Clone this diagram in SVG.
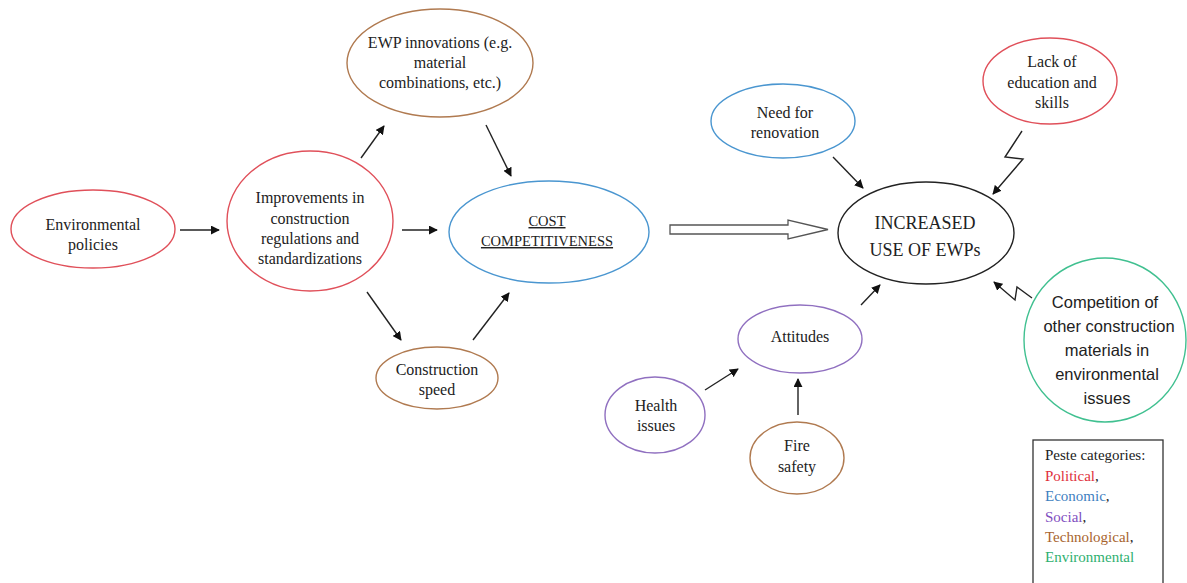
<svg xmlns="http://www.w3.org/2000/svg" width="1187" height="583" viewBox="0 0 1187 583">
<defs>
<marker id="ah" viewBox="0 0 10 10" refX="9" refY="5" markerWidth="9" markerHeight="9" markerUnits="userSpaceOnUse" orient="auto">
<path d="M0,0 L10,5 L0,10 z" fill="#111"/>
</marker>
</defs>
<style>
.n{fill:#fff;stroke-width:1.4}
.red{stroke:#e0505a}
.blue{stroke:#4a96d0}
.brown{stroke:#b07a50}
.purple{stroke:#9070c0}
.green{stroke:#40c090}
.black{stroke:#222}
.t{font-family:"Liberation Serif",serif;font-size:16px;fill:#222;text-anchor:middle}
.s{font-family:"Liberation Sans",sans-serif;font-size:16.5px;fill:#222;text-anchor:middle}
.c{stroke:#222;stroke-width:1.4;fill:none}
.lg{font-family:"Liberation Serif",serif;font-size:15px}
</style>
<rect width="1187" height="583" fill="#fff"/>
<g id="connectors">
<line class="c" x1="180" y1="230" x2="219" y2="230" marker-end="url(#ah)"/>
<line class="c" x1="361" y1="158" x2="384" y2="126" marker-end="url(#ah)"/>
<line class="c" x1="486" y1="125" x2="511" y2="176" marker-end="url(#ah)"/>
<line class="c" x1="402" y1="230" x2="437" y2="230" marker-end="url(#ah)"/>
<line class="c" x1="367" y1="292" x2="401" y2="340" marker-end="url(#ah)"/>
<line class="c" x1="473" y1="340" x2="509" y2="293" marker-end="url(#ah)"/>
<path d="M670,225 L788,225 L788,220 L828,229.5 L788,239 L788,234 L670,234 z" fill="#fff" stroke="#555" stroke-width="1.3"/>
<line class="c" x1="833" y1="157" x2="863" y2="188" marker-end="url(#ah)"/>
<polyline class="c" points="1022,131 1005,157 1023,159 993,194" marker-end="url(#ah)"/>
<polyline class="c" points="1032,298 1017,287 1015,300 994,282" marker-end="url(#ah)"/>
<line class="c" x1="861" y1="305" x2="880" y2="285" marker-end="url(#ah)"/>
<line class="c" x1="705" y1="390" x2="738" y2="369" marker-end="url(#ah)"/>
<line class="c" x1="798" y1="415" x2="798" y2="379" marker-end="url(#ah)"/>
</g>
<g id="env-policies">
<ellipse class="n red" cx="93" cy="229" rx="82" ry="39"/>
<text class="t" x="93" y="230">Environmental</text>
<text class="t" x="93" y="250">policies</text>
</g>
<g id="improvements">
<ellipse class="n red" cx="310" cy="221" rx="83" ry="70"/>
<text class="t" x="310" y="203">Improvements in</text>
<text class="t" x="310" y="224">construction</text>
<text class="t" x="310" y="244">regulations and</text>
<text class="t" x="310" y="264">standardizations</text>
</g>
<g id="ewp-innovations">
<ellipse class="n brown" cx="440" cy="63" rx="93" ry="54"/>
<text class="t" x="440" y="48">EWP innovations (e.g.</text>
<text class="t" x="440" y="68">material</text>
<text class="t" x="440" y="88">combinations, etc.)</text>
</g>
<g id="construction-speed">
<ellipse class="n brown" cx="437" cy="378" rx="61" ry="31"/>
<text class="t" x="437" y="375">Construction</text>
<text class="t" x="437" y="395">speed</text>
</g>
<g id="cost">
<ellipse class="n blue" cx="549" cy="232" rx="100" ry="51"/>
<text class="t" x="547" y="226" style="font-size:14.5px" text-decoration="underline">COST</text>
<text class="t" x="547" y="246" style="font-size:14.5px" text-decoration="underline">COMPETITIVENESS</text>
</g>
<g id="increased">
<ellipse class="n black" cx="926" cy="233" rx="88" ry="51"/>
<text class="t" x="925" y="229" style="font-size:18px">INCREASED</text>
<text class="t" x="925" y="256" style="font-size:18px">USE OF EWPs</text>
</g>
<g id="renovation">
<ellipse class="n blue" cx="783" cy="121" rx="72" ry="37"/>
<text class="t" x="785" y="118">Need for</text>
<text class="t" x="785" y="138">renovation</text>
</g>
<g id="lack-education">
<ellipse class="n red" cx="1050" cy="81" rx="67" ry="43"/>
<text class="t" x="1052" y="67">Lack of</text>
<text class="t" x="1052" y="88">education and</text>
<text class="t" x="1052" y="108">skills</text>
</g>
<g id="competition">
<ellipse class="n green" cx="1105" cy="340" rx="81" ry="82"/>
<text class="s" x="1105" y="308">Competition of</text>
<text class="s" x="1109" y="332">other construction</text>
<text class="s" x="1107" y="356">materials in</text>
<text class="s" x="1107" y="380">environmental</text>
<text class="s" x="1107" y="404">issues</text>
</g>
<g id="attitudes">
<ellipse class="n purple" cx="800" cy="339" rx="62" ry="34"/>
<text class="t" x="800" y="342">Attitudes</text>
</g>
<g id="health">
<ellipse class="n purple" cx="655" cy="415" rx="50" ry="38"/>
<text class="t" x="656" y="411">Health</text>
<text class="t" x="656" y="431">issues</text>
</g>
<g id="fire">
<ellipse class="n brown" cx="797" cy="458" rx="47" ry="36"/>
<text class="t" x="797" y="451">Fire</text>
<text class="t" x="797" y="472">safety</text>
</g>
<g id="legend">
<rect x="1033" y="440" width="130" height="150" fill="#fff" stroke="#333" stroke-width="1.3"/>
<text class="lg" x="1045" y="460" fill="#222">Peste categories:</text>
<text class="lg" x="1045" y="481"><tspan fill="#e0303c">Political</tspan><tspan fill="#222">,</tspan></text>
<text class="lg" x="1045" y="501"><tspan fill="#3f7fbf">Economic</tspan><tspan fill="#222">,</tspan></text>
<text class="lg" x="1045" y="522"><tspan fill="#7f4fbf">Social</tspan><tspan fill="#222">,</tspan></text>
<text class="lg" x="1045" y="542"><tspan fill="#a8642e">Technological</tspan><tspan fill="#222">,</tspan></text>
<text class="lg" x="1045" y="562" fill="#2fb070">Environmental</text>
</g>
</svg>
